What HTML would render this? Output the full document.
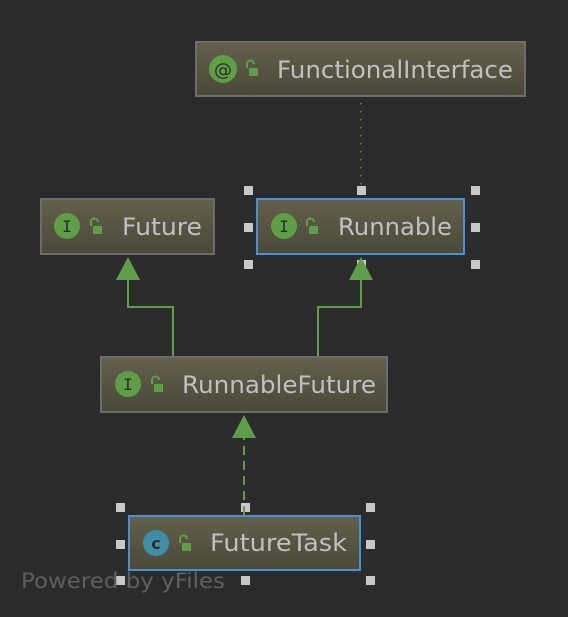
<!DOCTYPE html>
<html><head><style>
body{margin:0;background:#2b2b2b;width:568px;height:612px;overflow:hidden}
</style></head><body>
<svg width="568" height="612" xmlns="http://www.w3.org/2000/svg" font-family="DejaVu Sans, Liberation Sans, sans-serif">
<defs>
<linearGradient id="g" x1="0" y1="0" x2="0" y2="1">
<stop offset="0" stop-color="#63604c"/><stop offset="1" stop-color="#4a4839"/>
</linearGradient>
<g id="lock"><path d="M0 -3 v-4 a3.5 3.5 0 0 1 7 0" fill="none" stroke="#5d9e46" stroke-width="2"/><rect x="2" y="-3" width="9" height="8" fill="#5d9e46"/></g>
</defs>
<!-- handles -->
<g fill="#c8c8c8">
<rect x="244" y="186" width="9" height="9"/><rect x="357" y="186" width="9" height="9"/><rect x="471" y="186" width="9" height="9"/>
<rect x="244" y="223" width="9" height="9"/><rect x="471" y="223" width="9" height="9"/>
<rect x="244" y="260" width="9" height="9"/><rect x="357" y="260" width="9" height="9"/><rect x="471" y="260" width="9" height="9"/>
<rect x="116" y="503" width="9" height="9"/><rect x="241" y="503" width="9" height="9"/><rect x="366" y="503" width="9" height="9"/>
<rect x="116" y="540" width="9" height="9"/><rect x="366" y="540" width="9" height="9"/>
<rect x="116" y="576" width="9" height="9"/><rect x="241" y="576" width="9" height="9"/><rect x="366" y="576" width="9" height="9"/>
</g>
<!-- edges -->
<line x1="361" y1="103" x2="361" y2="190" stroke="#a0a030" stroke-width="1.2" stroke-dasharray="1.5,6.5"/>
<polyline points="173,356 173,307 128,307 128,278" fill="none" stroke="#5d9e46" stroke-width="2"/>
<polygon points="128,257 116,280 140,280" fill="#5d9e46"/>
<polyline points="318,356 318,307 361,307 361,278" fill="none" stroke="#5d9e46" stroke-width="2"/>
<polygon points="361,257 349,280 373,280" fill="#5d9e46"/>
<line x1="244" y1="515" x2="244" y2="437" stroke="#5d9e46" stroke-width="2" stroke-dasharray="9,6"/>
<polygon points="244,415 232,438 256,438" fill="#5d9e46"/>
<!-- FunctionalInterface -->
<rect x="196" y="42" width="329" height="54" fill="url(#g)" stroke="#6c6c6c" stroke-width="2"/>
<circle cx="223" cy="69" r="14" fill="#5d9e46"/><text x="223" y="76" font-size="18" text-anchor="middle" fill="#2b2b2b">@</text>
<use href="#lock" x="247" y="71"/>
<text x="277" y="78" font-size="24" fill="#c0c0c0" textLength="236" lengthAdjust="spacingAndGlyphs">FunctionalInterface</text>
<!-- Future -->
<rect x="41" y="199" width="173" height="55" fill="url(#g)" stroke="#6c6c6c" stroke-width="2"/>
<circle cx="67" cy="226" r="13" fill="#5d9e46"/><text x="67" y="232" font-size="16" font-family="DejaVu Sans Mono, monospace" text-anchor="middle" fill="#2b2b2b">I</text>
<use href="#lock" x="91" y="229"/>
<text x="122" y="235" font-size="24" fill="#c0c0c0" textLength="80" lengthAdjust="spacingAndGlyphs">Future</text>
<!-- Runnable -->
<rect x="257" y="199" width="207" height="55" fill="url(#g)" stroke="#4a90d9" stroke-width="2"/>
<circle cx="284" cy="226" r="13" fill="#5d9e46"/><text x="284" y="232" font-size="16" font-family="DejaVu Sans Mono, monospace" text-anchor="middle" fill="#2b2b2b">I</text>
<use href="#lock" x="307" y="229"/>
<text x="338" y="235" font-size="24" fill="#c0c0c0" textLength="114" lengthAdjust="spacingAndGlyphs">Runnable</text>
<!-- RunnableFuture -->
<rect x="101" y="357" width="286" height="55" fill="url(#g)" stroke="#6c6c6c" stroke-width="2"/>
<circle cx="128" cy="384" r="13" fill="#5d9e46"/><text x="128" y="390" font-size="16" font-family="DejaVu Sans Mono, monospace" text-anchor="middle" fill="#2b2b2b">I</text>
<use href="#lock" x="152" y="387"/>
<text x="182" y="393" font-size="24" fill="#c0c0c0" textLength="194" lengthAdjust="spacingAndGlyphs">RunnableFuture</text>
<!-- FutureTask -->
<rect x="129" y="516" width="231" height="54" fill="url(#g)" stroke="#4a90d9" stroke-width="2"/>
<circle cx="156" cy="543" r="13" fill="#3f8ea6"/><text x="156" y="549" font-size="16" text-anchor="middle" fill="#2b2b2b" font-weight="bold">c</text>
<use href="#lock" x="180" y="546"/>
<text x="210" y="551" font-size="24" fill="#c0c0c0" textLength="137" lengthAdjust="spacingAndGlyphs">FutureTask</text>
<text x="21" y="588" font-size="21" fill="#5e5e5e" textLength="204" lengthAdjust="spacingAndGlyphs">Powered by yFiles</text>
</svg>
</body></html>
